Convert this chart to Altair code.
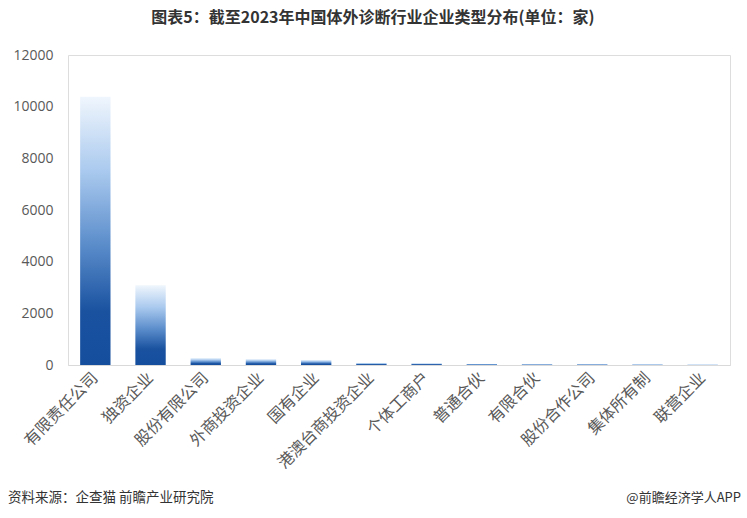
import altair as alt
import pandas as pd

# Enterprise types and their counts (unit: companies)
categories = ["有限责任公司", "独资企业", "股份有限公司", "外商投资企业", "国有企业",
              "港澳台商投资企业", "个体工商户", "普通合伙", "有限合伙", "股份合作公司",
              "集体所有制", "联营企业"]
counts = [10380, 3090, 270, 230, 195, 80, 70, 40, 35, 35, 30, 25]

title_text = "图表5：截至2023年中国体外诊断行业企业类型分布(单位：家)"
source_text = "资料来源：企查猫 前瞻产业研究院"
credit_text = "@前瞻经济学人APP"

df = pd.DataFrame({"类型": categories, "数量": counts})

CJK = "Noto Sans CJK SC"
W, H = 662, 310

bar_fill = alt.LinearGradient(
    gradient="linear",
    x1=0, y1=1, x2=0, y2=0,
    stops=[
        alt.GradientStop(offset=0.0, color="#144e9d"),
        alt.GradientStop(offset=0.2, color="#1a52a0"),
        alt.GradientStop(offset=0.45, color="#5b8dcb"),
        alt.GradientStop(offset=0.72, color="#a9c9ee"),
        alt.GradientStop(offset=1.0, color="#f0f6fd"),
    ],
)

bars = alt.Chart(df).mark_bar(color=bar_fill).encode(
    x=alt.X("类型:N", sort=categories, title=None,
            scale=alt.Scale(paddingInner=0.45, paddingOuter=0.22),
            axis=alt.Axis(labelAngle=-45, labelAlign="right", labelBaseline="middle",
                          labelFont=CJK, labelFontSize=16, labelColor="#595959",
                          labelPadding=10, ticks=False, domainColor="#d9d9d9",
                          domainWidth=1, labelLimit=200)),
    y=alt.Y("数量:Q", title=None,
            scale=alt.Scale(domain=[0, 12000]),
            axis=alt.Axis(values=[0, 2000, 4000, 6000, 8000, 10000, 12000], format="d",
                          grid=False, domain=False, ticks=False,
                          labelFont="Open Sans", labelFontSize=14, labelColor="#595959",
                          labelPadding=15)),
)

note = pd.DataFrame({"t": [0]})
source = alt.Chart(note).mark_text(
    text=source_text, font=CJK, fontSize=13.5, color="#333333", align="left", baseline="middle"
).encode(x=alt.value(-60), y=alt.value(443))
credit = alt.Chart(note).mark_text(
    text=credit_text, font=CJK, fontSize=13, color="#333333", align="right", baseline="middle"
).encode(x=alt.value(673), y=alt.value(443))

chart = alt.layer(bars, source, credit).properties(
    width=W, height=H,
    autosize=alt.AutoSizeParams(type="none"),
    padding={"left": 68, "top": 55, "right": 17, "bottom": 153},
    title=alt.TitleParams(title_text, font=CJK, fontSize=16, fontWeight="bold",
                          color="#333333", anchor="middle", dx=-26, offset=22),
).configure_view(stroke=None).configure(background="white")

chart.save("out.html", embed_options={"renderer": "svg", "actions": False})
